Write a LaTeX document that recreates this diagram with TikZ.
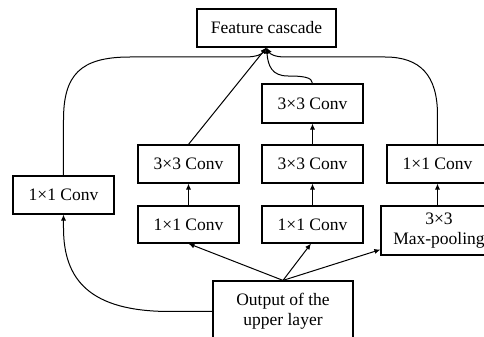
\documentclass[tikz,border=0pt]{standalone}
\usepackage{fontspec}
\setmainfont{Liberation Serif}
\usetikzlibrary{arrows.meta,calc}
\begin{document}
\begin{tikzpicture}[x=0.5pt,y=-0.5pt,
  box/.style={draw, line width=0.6pt, inner sep=0pt, align=center, font=\fontsize{8.75pt}{10pt}\selectfont},
  conn/.style={line width=0.5pt},
  arr/.style={conn, -{Latex[length=3pt,width=2.6pt]}}]
\useasboundingbox (0,0) rectangle (484,337);
% nodes
\node[box, minimum width=69.5pt, minimum height=19pt] (fc) at (266.5,28) {Feature cascade};
\node[box, minimum width=50.5pt, minimum height=19.5pt] (c33top) at (312.5,103.5) {3×3 Conv};
\node[box, minimum width=50.5pt, minimum height=19pt] (l33) at (188.5,164) {3×3 Conv};
\node[box, minimum width=50.5pt, minimum height=19pt] (m33) at (312.5,164) {3×3 Conv};
\node[box, minimum width=50.5pt, minimum height=19pt] (r11) at (437.5,164) {1×1 Conv};
\node[box, minimum width=50.5pt, minimum height=18.5pt] (l11) at (188.5,224.5) {1×1 Conv};
\node[box, minimum width=50.5pt, minimum height=18.5pt] (m11) at (312.5,224.5) {1×1 Conv};
\node[box, minimum width=58pt, minimum height=24.5pt] (mp) at (439,230.5) {3×3\\Max-pooling};
\node[box, minimum width=50.5pt, minimum height=19pt] (ll11) at (63.5,195) {1×1 Conv};
\node[box, minimum width=70pt, minimum height=30.5pt] (out) at (283,311.5) {Output of the\\upper layer};
% connectors to feature cascade
\draw[arr] (ll11.north) -- (63.5,120) .. controls (63.5,75) and (80,57) .. (130,57) -- (245,57) .. controls (257,57) and (262,54) .. (fc.south);
\draw[arr] (r11.north) -- (437.5,115) .. controls (437.5,75) and (420,57) .. (385,57) -- (285,57) .. controls (275,57) and (270,54) .. (fc.south);
\draw[arr] (l33.north) -- (fc.south);
\draw[arr] (c33top.north) .. controls (312.5,77) and (302,76) .. (288,76) .. controls (272,76) and (268,66) .. (fc.south);
% vertical arrows
\draw[arr] (m33.north) -- (c33top.south);
\draw[arr] (l11.north) -- (l33.south);
\draw[arr] (m11.north) -- (m33.south);
\draw[arr] (mp.north -| r11.north) -- (r11.south);
% from output
\draw[arr] (out.north) -- (l11.south);
\draw[arr] (out.north) -- ($(m11.south)+(-1.5,0)$);
\draw[arr] (out.north) -- ($(mp.south west)+(0,-6)$);
\draw[arr] (out.west) -- (170,311.5) .. controls (90,311.5) and (63.5,280) .. (63.5,228) -- (ll11.south);
\end{tikzpicture}
\end{document}
